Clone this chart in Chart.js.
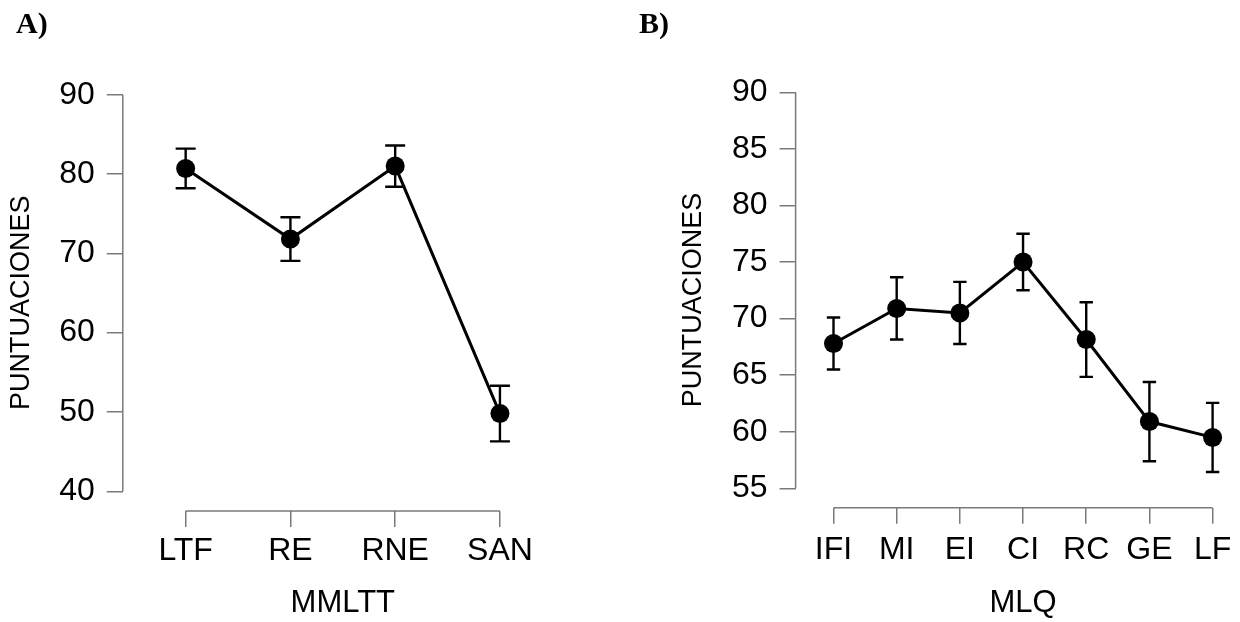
<!DOCTYPE html>
<html><head><meta charset="utf-8">
<script src="https://cdn.jsdelivr.net/npm/chart.js@4.4.1/dist/chart.umd.min.js"></script>
<style>
html,body{margin:0;padding:0;overflow:hidden;background:#fff;}
#wrap{position:relative;width:1240px;height:622px;overflow:hidden;background:#fff;}
canvas{position:absolute;top:0;}
.lab{position:absolute;font:bold 30px "Liberation Serif","Times New Roman",serif;line-height:30px;color:#000;}
</style></head><body>
<div id="wrap">
<canvas id="cA" width="620" height="622" style="left:0"></canvas>
<canvas id="cB" width="640" height="622" style="left:620px"></canvas>
<div class="lab" style="left:16px;top:8px">A)</div>
<div class="lab" style="left:639px;top:8px">B)</div>
</div>
<script>
// ---- Data ----
const labelsA = ['LTF', 'RE', 'RNE', 'SAN'];
const meansA  = [80.7, 71.8, 81.0, 49.8];
const errA    = [2.5, 2.75, 2.6, 3.5];
const yTicksA = [40, 50, 60, 70, 80, 90];
const xTitleA = 'MMLTT';

const labelsB = ['IFI', 'MI', 'EI', 'CI', 'RC', 'GE', 'LF'];
const meansB  = [67.8, 70.9, 70.5, 75.0, 68.15, 60.9, 59.5];
const errB    = [2.3, 2.75, 2.75, 2.5, 3.3, 3.5, 3.05];
const yTicksB = [55, 60, 65, 70, 75, 80, 85, 90];
const xTitleB = 'MLQ';

const yTitle = 'PUNTUACIONES';

// ---- Styling ----
const FONT = '"Liberation Sans", Arial, Helvetica, sans-serif';
const AXIS = '#7a7a7a';

function makePanel(id, labels, means, errs, yTicks, xTitle, o) {
  const extras = {
    id: 'extras' + id,
    beforeDatasetsDraw(chart) {
      const {ctx, chartArea} = chart;
      const x = chart.scales.x, y = chart.scales.y;
      ctx.save();
      // R-style detached axis lines spanning first..last tick
      ctx.strokeStyle = AXIS;
      ctx.lineWidth = 1.5;
      ctx.beginPath();
      ctx.moveTo(chartArea.left, y.getPixelForValue(yTicks[0]));
      ctx.lineTo(chartArea.left, y.getPixelForValue(yTicks[yTicks.length - 1]));
      ctx.moveTo(x.getPixelForValue(0), chartArea.bottom);
      ctx.lineTo(x.getPixelForValue(labels.length - 1), chartArea.bottom);
      ctx.stroke();
      // error bars
      ctx.strokeStyle = '#000';
      ctx.lineWidth = 2.4;
      means.forEach((m, i) => {
        const px = x.getPixelForValue(i);
        const t = y.getPixelForValue(m + errs[i]);
        const b = y.getPixelForValue(m - errs[i]);
        ctx.beginPath();
        ctx.moveTo(px, t); ctx.lineTo(px, b);
        ctx.moveTo(px - o.cap, t); ctx.lineTo(px + o.cap, t);
        ctx.moveTo(px - o.cap, b); ctx.lineTo(px + o.cap, b);
        ctx.stroke();
      });
      ctx.restore();
    }
  };
  const gridOpts = {display: true, drawOnChartArea: false, drawTicks: true, tickLength: 16, color: AXIS, lineWidth: 1.5};
  return new Chart(document.getElementById(id), {
    type: 'line',
    data: {
      datasets: [{
        data: means.map((v, i) => ({x: i, y: v})),
        borderColor: '#000', borderWidth: 3,
        pointRadius: 9.5, pointHoverRadius: 9.5,
        pointBackgroundColor: '#000', pointBorderColor: '#000', pointBorderWidth: 0,
        tension: 0, fill: false, clip: false
      }]
    },
    options: {
      responsive: false, animation: false, devicePixelRatio: 1,
      events: [],
      layout: {padding: {left: o.padL, right: o.padR, top: o.padT, bottom: 0}},
      plugins: {legend: {display: false}, tooltip: {enabled: false}, title: {display: false}},
      scales: {
        x: {
          type: 'linear', min: -0.6, max: labels.length - 1 + 0.6,
          afterBuildTicks: s => { s.ticks = labels.map((_, i) => ({value: i})); },
          afterFit: s => { s.height = o.xH; },
          grid: gridOpts, border: {display: false},
          ticks: {autoSkip: false, maxRotation: 0, padding: o.xPad, color: '#000',
                  font: {family: FONT, size: 32}, callback: v => labels[v]},
          title: {display: true, text: xTitle, color: '#000',
                  font: {family: FONT, size: 31}, padding: {top: 0, bottom: 0}}
        },
        y: {
          type: 'linear', min: o.yMin, max: 90,
          afterBuildTicks: s => { s.ticks = yTicks.map(v => ({value: v})); },
          afterFit: s => { s.width = o.yW; },
          grid: gridOpts, border: {display: false},
          ticks: {autoSkip: false, padding: 12, color: '#000',
                  font: {family: FONT, size: 32}, callback: v => String(v)},
          title: {display: true, text: yTitle, color: '#000',
                  font: {family: FONT, size: 27}, padding: {top: o.yTitlePad, bottom: 0}}
        }
      }
    },
    plugins: [extras]
  });
}

makePanel('cA', labelsA, meansA, errA, yTicksA, xTitleA,
  {padL: 0, yW: 122.8, padR: 57.2, padT: 94.7, xH: 111.1, yMin: 37.53, cap: 10, xPad: 5.4, yTitlePad: 5.5});
makePanel('cB', labelsB, meansB, errB, yTicksB, xTitleB,
  {padL: 52, yW: 123.6, padR: 7, padT: 92.3, xH: 114.2, yMin: 53.28, cap: 6.7, xPad: 7, yTitlePad: 5.1});
</script>
</body></html>
